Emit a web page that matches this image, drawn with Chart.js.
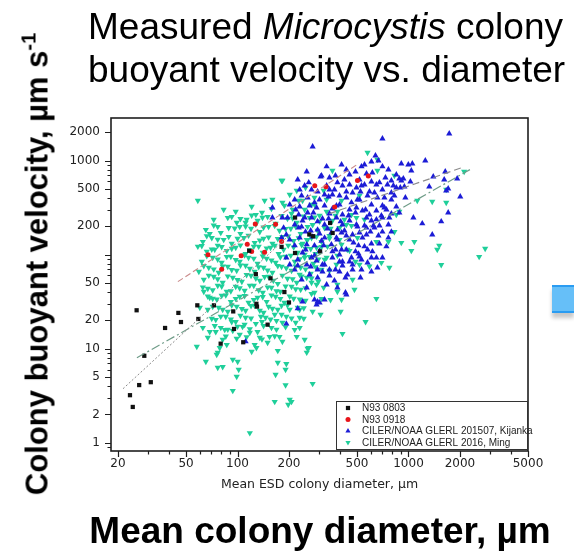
<!DOCTYPE html>
<html>
<head>
<meta charset="utf-8">
<script src="https://cdn.jsdelivr.net/npm/chart.js@4.4.1/dist/chart.umd.min.js"></script>
<style>
  html, body { margin: 0; padding: 0; background: #fff; }
  #wrap { position: relative; width: 574px; height: 552px; overflow: hidden; font-family: "Liberation Sans", Arial, sans-serif; }
  #c { position: absolute; left: 0; top: 0; }
  .t { position: absolute; white-space: nowrap; color: #000; }
  #title1 { left: 88px; top: 6px; font-size: 37px; line-height: 42px; }
  #title2 { left: 88px; top: 49px; font-size: 37px; line-height: 42px; }
  #ytitle { left: 37px; top: 264px; font-size: 31px; font-weight: bold; line-height: 35px; transform: translate(-50%, -50%) rotate(-90deg); }
  #ytitle sup { font-size: 20px; vertical-align: 12px; line-height: 0; }
  #xtitle { left: 320px; top: 510px; font-size: 37px; font-weight: bold; line-height: 42px; transform: translateX(-50%); }
  #tab { position: absolute; left: 552px; top: 285px; width: 22px; height: 24px; background: #66bff8; border-top: 2px solid #2a9cf2; border-bottom: 2px solid #2a9cf2; box-shadow: 0 5px 4px rgba(0,0,0,0.22); }
</style>
</head>
<body>
<div id="wrap">
  <canvas id="c" width="574" height="552"></canvas>
  <div class="t" id="title1">Measured <i>Microcystis</i> colony</div>
  <div class="t" id="title2">buoyant velocity vs. diameter</div>
  <div class="t" id="ytitle">Colony buoyant velocity, µm s<sup>-1</sup></div>
  <div class="t" id="xtitle">Mean colony diameter, µm</div>
  <div id="tab"></div>
</div>
<script>
// Series names as shown in the legend
const seriesNames = [
  'N93 0803',
  'N93 0918',
  'CILER/NOAA GLERL 201507, Kijanka',
  'CILER/NOAA GLERL 2016, Ming'
];

// Labelled tick values
const xTickLabels = [20, 50, 100, 200, 500, 1000, 2000, 5000];
const yTickLabels = [1, 2, 5, 10, 20, 50, 200, 500, 1000, 2000];

// [diameter µm, velocity µm/s]
const n93_0803 = [
  [23.5,3.2],[24.4,2.4],[25.7,25.6],[26.6,4.1],[28.5,8.4],[31.1,4.4],[37.7,16.6],[45.1,24],
  [46.7,19.2],[58.2,28.9],[59,20.7],[72.8,28.9],[79.7,11.3],[94.4,24.9],[95.4,16.2],[108,11.7],
  [117,110],[128,62],[129,30],[130,28],[150,18],[156,56],[181,121],[188,40],[200,31],[217,104],
  [217,248],[263,164],[277,157],[304,108],[348,217],[360,170]
];

const n93_0918 = [
  [67.2,100],[80.8,70],[105,97],[114,129],[121,108],[127,212],[144,106],[167,211],[181,138],
  [283,539],[329,526],[370,322],[503,613],[582,684]
];

const kijankaOuter = [
  [275,1405],[704,1711],[1731,1937],[641,1129],[667,1000],[1254,1000],[908,929],[998,907],[1053,929],
  [1039,782],[849,709],[884,643],[933,643],[908,613],[794,613],[1026,598],[1396,675],[1641,764],
  [1618,628],[1927,643],[1323,529],[849,516],[896,516],[946,529],[794,456],[1707,503],[1662,479],
  [959,404],[2008,414],[849,324],[794,273],[884,280],[1707,280],[1068,247],[1204,214],[1554,225],
  [1377,163],[704,332],[704,175],[704,92.9],[632,193],[568,193],[553,122],[607,92.9],[517,95.2],
  [464,92.9],[411,84.3],[359,92.9],[314,78.3],[345,69.3],[395,66],[471,69.3],[428,57],[433,37.6],
  [384,44.6],[282,33.2],[302,30.9],[290,29.4],[254,44.6],[225,26.7],[111.5,11.9],[225,628],
  [306,675],[406,907],[553,907],[490,764],[704,864],[240,31.6],[294,31.6],[323,33.2],[428,39.4],[193,18.4]
];

const kijankaCore = [
  [433,802],[452,709],[568,727],[615,745],[310,692],[345,659],[384,584],[411,541],[452,555],[496,516],
  [553,555],[607,598],[676,584],[704,491],[632,456],[576,424],[658,404],[723,404],[517,385],[464,358],
  [433,404],[395,424],[359,435],[323,435],[302,385],[282,358],[257,404],[237,424],[216,385],[202,340],
  [231,324],[257,280],[290,316],[323,332],[345,273],[379,247],[411,266],[452,301],[496,316],[538,294],
  [591,266],[649,294],[704,247],[676,203],[607,230],[553,203],[496,208],[452,230],[411,208],[384,184],
  [354,171],[323,208],[294,184],[271,247],[240,230],[228,193],[216,208],[196,247],[183,247],[160,247],
  [160,316],[193,163],[181,151],[231,151],[254,128],[282,125],[310,140],[354,128],[384,144],[433,159],
  [471,163],[517,171],[568,163],[433,113],[395,100],[531,88.5],[576,82.2],[323,78.3],[290,86.3],[254,78.3],
  [225,88.5],[202,78.3],[193,92.9],[264,61.3],[294,57],[345,59.8],[369,52.9],[332,48],[471,78.3],[411,76.4],
  [247,541],[271,491],[332,541],[369,491],[433,468],[524,468],[753,555],[794,385],[743,301],[264,332],
  [379,332],[490,280],[568,247],[649,236],[763,208],[228,266],[294,225],[341,241],[406,171],[452,144],
  [510,125],[607,131],[667,159],[743,122],[250,175],[275,155],[323,151],[216,125],[240,105],[271,92.9],
  [302,110],[374,113],[490,108],[615,108],[202,144],[186,193],[216,69.3],[237,54.2],[294,69.3],[395,84.3],
  [531,69.3],[658,72.8],[254,764],[332,864],[531,864],[607,976],[763,802],[827,424],[517,628],[794,175]
];

const kijankaDense = [
  [231,491],[261,584],[294,468],[341,414],[374,692],[422,628],[471,456],[531,541],[591,468],[649,555],[733,659],[816,541],
  [219,301],[247,247],[278,280],[314,241],[359,308],[401,225],[446,260],[503,198],[561,301],[624,203],[694,260],[773,247],
  [237,198],[268,180],[302,167],[336,189],[379,151],[422,180],[477,134],[538,151],[599,175],[676,131],[763,151],
  [250,113],[282,97.6],[319,125],[359,108],[406,113],[452,84.3],[510,102],[576,113],[649,92.9],
  [225,76.4],[268,74.6],[314,66],[374,69.3],[439,61.3],[524,57],[607,66],
  [345,491],[395,340],[503,385],[607,340],[723,316]
];

const mingOuter = [
  [58.6,376],[181,613],[128,266],[144,376],[99,219],[76.6,198],[103,198],[113,236],[68.8,167],[73.6,113],
  [58.6,122],[228,376],[160,385],[359,782],[576,1217],[658,1025],[827,692],[2117,764],[1662,491],[1126,376],
  [1377,367],[1662,358],[884,287],[849,266],[649,137],[763,137],[908,134],[1082,137],[1039,110],[1513,125],
  [1473,113],[1554,78],[2809,116],[2590,95],[591,75],[694,82],[649,34],[561,19.3],[411,14.4],[401,24.8],
  [350,33],[310,34],[319,44.6],[275,24.8],[231,16.7],[222,13.4],[261,10.2],[254,9.1],[275,4.24],
  [193,6.9],[172,7.1],[167,5.3],[191,4.1],[202,2.87],[207,2.73],[198,2.54],[165,2.73],[118,1.27],[93.8,3.57],
  [98.9,5.04],[101.6,5.98],[93.8,7.64],[100.2,7.28],[76.6,6.28],[65.3,7.28],[57.8,10.5],[75.6,8.64],[78.7,10.2],
  [86.5,11],[81.9,12.5],[74.6,15.1],[121,9.3],[135,13.1],[154,13.4],[118,14.8],[60.2,27.3],[63.5,40.4],
  [68.8,34.9],[139,19.3],[165,23],[202,26],[231,21.4],[216,15.9],[247,12.5],[183,11.9],[150,11.6],[110,18],
  [70.7,20.9],[67,26],[84.2,15.9],[92.5,19.3],[103,14.1],[126,11],[76.6,9.1],[81.9,6.4],[62.7,16.7],
  [67,13.1],[68.8,15.1],[244,20.9],[219,18.9],[183,18.9],[176,13.4],[129,10.2],[172,9.5],[257,10],
  [191,5.98],[282,39.4],[231,26],[384,40.4],[306,23]
];

const mingCore = [
  [83,301],[97.6,287],[121,324],[139,280],[158,308],[188,332],[207,273],[247,301],[282,340],[332,287],
  [72.6,236],[87.7,247],[111.5,219],[131,230],[150,253],[167,214],[196,241],[222,219],[264,247],[302,225],[374,260],[422,236],
  [65.3,184],[79.8,171],[88.8,193],[104,167],[120,189],[135,175],[152,198],[176,180],[205,189],[234,167],[257,198],[294,180],[350,189],[464,203],
  [62.7,137],[70.7,151],[83,144],[92.5,131],[109,151],[126,134],[142,148],[160,131],[183,155],[213,140],[240,131],[271,151],[310,137],[395,144],[503,151],
  [66.1,108],[76.6,125],[86.5,110],[97.6,119],[111.5,102],[124.5,122],[140.5,105],[156,119],[174,102],[198,125],[225,105],[250,116],[286,102],[336,122],[439,113],
  [61.8,84.3],[71.6,92.9],[80.8,82.2],[91.4,95.2],[103,84.3],[116,92.9],[131,80.2],[148,90.7],[167,82.2],[191,95.2],[216,84.3],[247,92.9],[278,80.2],[323,88.5],[384,97.6],[490,84.3],
  [59.4,66],[67.9,72.8],[77.6,64.4],[87.7,74.6],[98.9,67.6],[111.5,76.4],[126,66],[142,72.8],[160,64.4],[181,74.6],[207,67.6],[234,72.8],[268,62.8],[310,69.3],
  [63.5,54.2],[72.6,58.4],[81.9,50.4],[93.8,57],[106,51.6],[120,59.8],[135,52.9],[152,58.4],[172,49.1],[196,55.6],[222,50.4],[254,57],[297,51.6],
  [67,43.5],[76.6,46.8],[86.5,40.4],[97.6,45.7],[110,41.4],[124.5,46.8],[140.5,39.4],[158,44.6],[178,40.4],[207,45.7],[234,42.4],[271,38.4],
  [71.6,34.1],[80.8,36.7],[91.4,31.6],[103,35.8],[116,30.9],[131,34.9],[148,31.6],[167,35.8],[188,30.9],[213,34.1],[250,32.4],
  [77.6,27.3],[87.7,24.8],[98.9,28],[111.5,25.4],[126,28.7],[142,24.2],[160,26.7],[181,28.7],[225,27.3],
  [74.6,20.3],[85.4,21.9],[97.6,19.3],[111.5,21.4],[128,18.4],[146,21.4],[169,19.8],[193,21.9],
  [79.8,16.7],[93.8,15.5],[107,17.1],[131,15.1],[158,16.7]
];

const mingDense = [
  [92.5,253],[104,240],[121,262],[140,248],[181,258],[210,244],[244,255],[282,250],
  [72.6,205],[96.3,190],[111.5,200],[128,210],[142,195],[165,203],[191,188],[219,198],[275,207],[323,193],
  [66.1,158],[76.6,145],[88.8,155],[100,148],[116,160],[135,142],[152,153],[172,147],[198,157],[228,150],[257,144],[290,156],[345,149],
  [61.8,124],[70.7,114],[80.8,121],[92.5,116],[104,126],[118,112],[133,122],[148,117],[165,125],[186,113],[213,120],[237,127],[268,115],[310,121],
  [66.1,97],[76.6,89],[86.5,95],[97.6,88],[110,99],[124.5,91],[140.5,96],[158,87],[178,94],[205,98],[231,90],[264,95],[297,89],
  [63.5,76],[72.6,70],[81.9,75],[92.5,69],[104,77],[118,71],[133,74],[150,68],[172,76],[193,72],[219,75],[250,70],[286,74],
  [67.9,60],[76.6,55],[87.7,59],[100,54],[113,61],[128,56],[144,58],[162,53],[183,60],[210,55],[237,59],[271,56],
  [62.7,45],[71.6,42],[80.8,46],[91.4,41],[103,44],[118,47],[133,42],[150,45],[169,41],[191,46],[219,43],[250,44],
  [67,36],[75.6,33.5],[85.4,37],[97.6,34],[110,36.5],[124.5,33],[140.5,35.5],[158,37],[178,34],[202,36],[231,33.5],
  [71.6,28],[81.9,26],[92.5,29],[106,26.5],[120,28.5],[135,25.5],[152,28],[172,26],[196,29],[244,27],
  [79.8,22],[91.4,20.5],[104,22.5],[120,21],[137,22],[156,20.5],[181,23],[207,21],
  [73.6,17.5],[87.7,16],[100,17.2],[118,16.2],[142,17.5],[169,16],[191,17],
  [85.4,13.5],[98.9,12.8],[113,13.3],[139,12.6],[165,13.6]
];

const mingMixed = [
  [183,613],[222,479],[183,358],[319,479],[282,404],[240,376],[210,301],[302,260],[359,230],[433,208],
  [496,247],[517,424],[406,376],[345,159],[406,128],[452,110],[290,119],[332,92.9],[247,100],[379,78.3],
  [345,67.6],[290,48],[384,48],[231,61.3],[471,54.2],[658,782],
  [202,435],[250,516],[271,340],[332,385],[384,287],[464,266],[553,236],[827,175],[395,193],[254,144],
  [517,78.3],[773,72.8],[271,50.4],[483,42.4],[406,33.2]
];

// Power-law fit lines, end points
const fit0803 = [[21.4,3.75],[200,160]];
const fit0918 = [[44.8,51.6],[500,906]];
const fitKijanka = [[345,273],[2054,843]];
const fitMing = [[25.8,8.0],[2288,802]];

const colBlack = '#111111';
const colRed = '#e8141a';
const colBlue = '#1c1cd6';
const colGreen = '#1fcf9a';

// Minor tick positions: every integer multiple inside each decade
function minorTicks(lo, hi, majors) {
  const out = [];
  for (let d = 0.1; d <= 10000; d *= 10) {
    for (let m = 1; m <= 9; m++) {
      const v = Math.round(m * d * 1000) / 1000;
      if (v >= lo && v <= hi && !majors.includes(v)) out.push(v);
    }
  }
  return out;
}
const xMinor = minorTicks(18.2, 5000, xTickLabels);
const yMinor = minorTicks(0.82, 2840, yTickLabels.concat([100]));

const tickFont = { family: '"DejaVu Sans", sans-serif', size: 12 };

const axisFrame = {
  id: 'axisFrame',
  afterDatasetsDraw(chart) {
    const { ctx, chartArea: a, scales: { x, y } } = chart;
    ctx.save();
    ctx.strokeStyle = '#1e1e1e';
    ctx.lineWidth = 1.6;
    ctx.strokeRect(a.left, a.top, a.right - a.left, a.bottom - a.top);
    ctx.lineWidth = 1.2;
    ctx.beginPath();
    const xt = (v, len) => {
      const px = Math.round(x.getPixelForValue(v)) + 0.5;
      ctx.moveTo(px, a.bottom); ctx.lineTo(px, a.bottom + len);
    };
    const yt = (v, len) => {
      const py = Math.round(y.getPixelForValue(v)) + 0.5;
      ctx.moveTo(a.left, py); ctx.lineTo(a.left - len, py);
    };
    xTickLabels.forEach(v => xt(v, 6));
    xMinor.forEach(v => xt(v, 3.5));
    yTickLabels.concat([100]).forEach(v => yt(v, 6));
    yMinor.forEach(v => yt(v, 3.5));
    ctx.stroke();
    ctx.restore();
  }
};

const boxLegend = {
  id: 'boxLegend',
  afterDraw(chart) {
    const { ctx } = chart;
    const L = 336, T = 401, R = 527, B = 449;
    ctx.save();
    ctx.fillStyle = '#ffffff';
    ctx.fillRect(L, T, R - L, B - T);
    ctx.strokeStyle = '#333333';
    ctx.lineWidth = 1;
    ctx.strokeRect(L + 0.5, T + 0.5, R - L, B - T);
    ctx.font = '10px "Liberation Sans", Arial, sans-serif';
    ctx.textBaseline = 'middle';
    seriesNames.forEach((name, i) => {
      const ds = chart.data.datasets[i];
      const cy = T + 7 + i * 11.5;
      ctx.fillStyle = ds.backgroundColor;
      Chart.helpers.drawPoint(ctx, {
        pointStyle: ds.pointStyle,
        rotation: ds.pointRotation || 0,
        radius: Math.min(ds.pointRadius, 3),
        borderWidth: 0
      }, 348, cy);
      ctx.fillStyle = '#222222';
      ctx.fillText(name, 362, cy + 0.5);
    });
    ctx.restore();
  }
};

new Chart(document.getElementById('c'), {
  type: 'scatter',
  data: {
    datasets: [
      { label: seriesNames[0], data: n93_0803, pointStyle: 'rect', pointRadius: 3.0,
        backgroundColor: colBlack, borderColor: colBlack, borderWidth: 0 },
      { label: seriesNames[1], data: n93_0918, pointStyle: 'circle', pointRadius: 2.5,
        backgroundColor: colRed, borderColor: colRed, borderWidth: 0 },
      { label: seriesNames[2], data: kijankaOuter.concat(kijankaCore, kijankaDense), pointStyle: 'triangle', pointRadius: 3.6,
        backgroundColor: colBlue, borderColor: colBlue, borderWidth: 0 },
      { label: seriesNames[3], data: mingOuter.concat(mingCore, mingDense, mingMixed), pointStyle: 'triangle', pointRotation: 180, pointRadius: 3.6,
        backgroundColor: colGreen, borderColor: colGreen, borderWidth: 0 },
      { label: 'fit 0803', data: fit0803, showLine: true, pointRadius: 0, borderColor: '#8a8a8a',
        borderWidth: 1, borderDash: [2, 2], order: -1 },
      { label: 'fit 0918', data: fit0918, showLine: true, pointRadius: 0, borderColor: '#c98a8a',
        borderWidth: 1.1, borderDash: [6, 3], order: -1 },
      { label: 'fit Kijanka', data: fitKijanka, showLine: true, pointRadius: 0, borderColor: '#8c8c8c',
        borderWidth: 1.2, borderDash: [7, 4], order: -1 },
      { label: 'fit Ming', data: fitMing, showLine: true, pointRadius: 0, borderColor: '#6f9c88',
        borderWidth: 1.2, borderDash: [9, 3, 2, 3], order: -1 }
    ]
  },
  options: {
    responsive: false,
    animation: false,
    events: [],
    layout: { padding: { top: 118, right: 46, bottom: 0, left: 0 } },
    plugins: { legend: { display: false }, tooltip: { enabled: false } },
    scales: {
      x: {
        type: 'logarithmic', min: 18.2, max: 5000,
        afterBuildTicks: s => { s.ticks = xTickLabels.map(v => ({ value: v })); },
        afterFit: s => { s.height = 101; },
        grid: { display: false, drawTicks: false },
        border: { display: false },
        ticks: { autoSkip: false, maxRotation: 0, padding: 6, color: '#222', font: tickFont,
                 callback: v => String(v) },
        title: { display: true, text: 'Mean ESD colony diameter, µm', color: '#222',
                 font: { family: '"DejaVu Sans", sans-serif', size: 12.5 },
                 padding: { top: 0, bottom: 60 } }
      },
      y: {
        type: 'logarithmic', min: 0.816, max: 2838,
        afterBuildTicks: s => { s.ticks = yTickLabels.map(v => ({ value: v })); },
        afterFit: s => { s.width = 111; },
        grid: { display: false, drawTicks: false },
        border: { display: false },
        ticks: { autoSkip: false, padding: 11, color: '#222', font: tickFont,
                 callback: v => String(v) }
      }
    }
  },
  plugins: [axisFrame, boxLegend]
});
</script>
</body>
</html>
